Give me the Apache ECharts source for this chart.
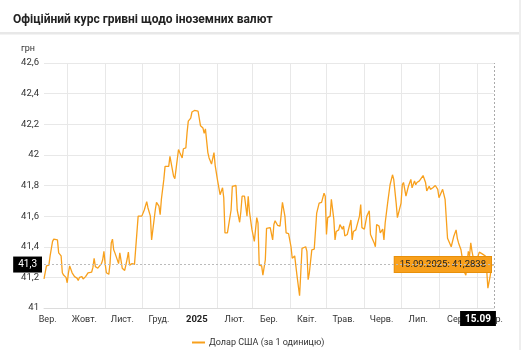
<!DOCTYPE html>
<html>
<head>
<meta charset="utf-8">
<script src="https://cdn.jsdelivr.net/npm/echarts@6/dist/echarts.min.js"></script>
<style>
html,body{margin:0;padding:0;background:#fff;}
#chart{width:522px;height:350px;}
</style>
</head>
<body>
<div id="chart"></div>
<script>
const titleText = 'Офіційний курс гривні щодо іноземних валют';
const unitName = 'грн';
const seriesName = 'Долар США (за 1 одиницю)';
const rangeStart = '2024-09-12';
const rangeEnd = '2025-09-15';
const monthNames = ['Січ.','Лют.','Бер.','Квіт.','Трав.','Черв.','Лип.','Сер.','Вер.','Жовт.','Лист.','Груд.'];
const yTicks = [41, 41.2, 41.4, 41.6, 41.8, 42, 42.2, 42.4, 42.6];

const dates = [
'2024-09-12','2024-09-14','2024-09-16','2024-09-17','2024-09-19','2024-09-20','2024-09-23','2024-09-24','2024-09-25','2024-09-26','2024-09-27','2024-09-28','2024-09-30',
'2024-10-01','2024-10-02','2024-10-03','2024-10-05','2024-10-06','2024-10-07','2024-10-09','2024-10-10','2024-10-11','2024-10-13','2024-10-14','2024-10-16','2024-10-18','2024-10-21','2024-10-22','2024-10-23','2024-10-24','2024-10-26','2024-10-27','2024-10-29','2024-10-30','2024-10-31',
'2024-11-01','2024-11-02','2024-11-04','2024-11-05','2024-11-06','2024-11-07','2024-11-08','2024-11-09','2024-11-10','2024-11-12','2024-11-13','2024-11-14','2024-11-15','2024-11-17','2024-11-18','2024-11-19','2024-11-20','2024-11-21','2024-11-23','2024-11-25','2024-11-26','2024-11-28',
'2024-12-01','2024-12-02','2024-12-03','2024-12-05','2024-12-06','2024-12-08','2024-12-09','2024-12-12','2024-12-13','2024-12-15','2024-12-16','2024-12-17','2024-12-19','2024-12-20','2024-12-21','2024-12-23','2024-12-24','2024-12-25','2024-12-27','2024-12-28','2024-12-29','2024-12-31',
'2025-01-01','2025-01-03','2025-01-04','2025-01-06','2025-01-07','2025-01-08','2025-01-10','2025-01-11','2025-01-13','2025-01-14','2025-01-16','2025-01-17','2025-01-18','2025-01-20','2025-01-21','2025-01-22','2025-01-24','2025-01-25','2025-01-26','2025-01-27','2025-01-29','2025-01-30',
'2025-02-01','2025-02-02','2025-02-03','2025-02-05','2025-02-06','2025-02-07','2025-02-09','2025-02-10','2025-02-12','2025-02-13','2025-02-16','2025-02-17','2025-02-19','2025-02-20','2025-02-21','2025-02-23','2025-02-25','2025-02-26','2025-02-27',
'2025-03-01','2025-03-02','2025-03-03','2025-03-05','2025-03-06','2025-03-07','2025-03-09','2025-03-10','2025-03-12','2025-03-13','2025-03-14','2025-03-16','2025-03-18','2025-03-19','2025-03-20','2025-03-22','2025-03-24','2025-03-26','2025-03-28','2025-03-29','2025-03-31',
'2025-04-02','2025-04-03','2025-04-05','2025-04-06','2025-04-07','2025-04-09','2025-04-10','2025-04-11','2025-04-14','2025-04-15','2025-04-16','2025-04-17','2025-04-19','2025-04-21','2025-04-22','2025-04-23','2025-04-25','2025-04-27','2025-04-29','2025-04-30',
'2025-05-01','2025-05-02','2025-05-04','2025-05-05','2025-05-07','2025-05-08','2025-05-09','2025-05-11','2025-05-12','2025-05-14','2025-05-15','2025-05-16','2025-05-18','2025-05-19','2025-05-21','2025-05-22','2025-05-23','2025-05-25','2025-05-26','2025-05-28','2025-05-29','2025-05-30',
'2025-06-01','2025-06-02','2025-06-03','2025-06-05','2025-06-06','2025-06-07','2025-06-09','2025-06-10','2025-06-11','2025-06-13','2025-06-14','2025-06-16','2025-06-17','2025-06-18','2025-06-20','2025-06-21','2025-06-22','2025-06-24','2025-06-25','2025-06-27','2025-06-28','2025-06-29',
'2025-07-01','2025-07-02','2025-07-03','2025-07-05','2025-07-06','2025-07-07','2025-07-09','2025-07-10','2025-07-12','2025-07-13','2025-07-14','2025-07-16','2025-07-17','2025-07-19','2025-07-20','2025-07-21','2025-07-22','2025-07-24','2025-07-25','2025-07-27','2025-07-28','2025-07-29','2025-07-31',
'2025-08-01','2025-08-02','2025-08-04','2025-08-05','2025-08-06','2025-08-08','2025-08-09','2025-08-11','2025-08-12','2025-08-13','2025-08-15','2025-08-16','2025-08-17','2025-08-19','2025-08-20','2025-08-22','2025-08-23','2025-08-25','2025-08-26','2025-08-27','2025-08-28','2025-08-30','2025-08-31',
'2025-09-02','2025-09-03','2025-09-04','2025-09-06','2025-09-07','2025-09-08','2025-09-09','2025-09-10','2025-09-12','2025-09-13','2025-09-14','2025-09-15'
];

const values = [
41.19,41.275,41.28,41.34,41.435,41.45,41.445,41.36,41.37,41.34,41.23,41.215,41.2,
41.165,41.23,41.275,41.23,41.23,41.205,41.195,41.18,41.2,41.205,41.19,41.205,41.23,41.235,41.265,41.325,41.27,41.26,41.26,41.29,41.315,41.37,
41.29,41.23,41.22,41.29,41.425,41.45,41.38,41.36,41.355,41.29,41.36,41.37,41.26,41.245,41.25,41.32,41.365,41.28,41.29,41.285,41.29,41.6,
41.6,41.595,41.64,41.695,41.655,41.6,41.445,41.64,41.69,41.665,41.61,41.71,41.84,41.925,41.93,41.925,41.99,41.98,41.86,41.845,41.845,42.035,
42.015,41.98,42.04,42.045,42.145,42.22,42.24,42.28,42.29,42.29,42.285,42.275,42.19,42.175,42.14,42.17,42.015,41.98,41.98,41.94,42.015,41.93,
41.83,41.825,41.74,41.785,41.72,41.49,41.49,41.48,41.64,41.795,41.8,41.64,41.56,41.63,41.73,41.73,41.6,41.73,41.63,
41.515,41.51,41.435,41.59,41.555,41.28,41.275,41.215,41.315,41.52,41.525,41.525,41.445,41.545,41.57,41.54,41.535,41.69,41.6,41.49,41.485,
41.4,41.325,41.34,41.335,41.205,41.08,41.23,41.39,41.4,41.37,41.185,41.23,41.38,41.385,41.39,41.62,41.685,41.69,41.75,41.73,
41.48,41.59,41.6,41.71,41.58,41.445,41.5,41.51,41.545,41.515,41.535,41.47,41.48,41.47,41.575,41.445,41.5,41.51,41.51,41.6,41.675,41.525,
41.515,41.51,41.6,41.635,41.48,41.47,41.425,41.4,41.545,41.535,41.49,41.515,41.445,41.555,41.685,41.685,41.805,41.87,41.84,41.685,41.59,41.59,
41.685,41.805,41.82,41.73,41.73,41.795,41.84,41.785,41.83,41.805,41.82,41.83,41.84,41.865,41.87,41.82,41.765,41.795,41.775,41.785,41.795,41.8,41.775,
41.72,41.72,41.775,41.785,41.71,41.455,41.455,41.4,41.39,41.465,41.51,41.455,41.425,41.38,41.37,41.23,41.215,41.37,41.34,41.425,41.37,41.29,41.27,
41.34,41.365,41.36,41.35,41.35,41.34,41.25,41.13,41.215,41.28,41.29,41.2838
];

// daily category list for the x axis
const categories = [];
(function () {
  const s = Date.parse(rangeStart + 'T00:00:00Z');
  const e = Date.parse(rangeEnd + 'T00:00:00Z');
  for (let t = s; t <= e; t += 86400000) categories.push(new Date(t).toISOString().slice(0, 10));
})();

const seriesData = dates.map((d, i) => [categories.indexOf(d), values[i]]);
const lastIdx = categories.indexOf(dates[dates.length - 1]);
const lastVal = values[values.length - 1];
const lastDate = dates[dates.length - 1];
const fmtNum = (v, dp) => (dp == null ? String(Math.round(v * 10) / 10) : v.toFixed(dp)).replace('.', ',');
const dd = lastDate.slice(8, 10), mm = lastDate.slice(5, 7), yy = lastDate.slice(0, 4);
const tipText = dd + '.' + mm + '.' + yy + ': ' + fmtNum(lastVal, 4);
const xPtrText = dd + '.' + mm;

const FONT = 'Roboto, "Noto Sans", sans-serif';
const ORANGE = '#f8a01c';

const chart = echarts.init(document.getElementById('chart'), null, {renderer: 'canvas'});
chart.setOption({
  animation: false,
  backgroundColor: '#fff',
  textStyle: {fontFamily: FONT},
  title: {
    text: titleText, left: 8, top: 9,
    textStyle: {fontFamily: FONT, fontSize: 12, fontWeight: 'bold', color: '#222'}
  },
  graphic: [
    {type: 'rect', shape: {x: 0, y: 32, width: 520, height: 2.5}, style: {fill: '#e8e8e8'}, silent: true},
    {type: 'rect', shape: {x: 519, y: 0, width: 2, height: 350}, style: {fill: '#eeeeee'}, silent: true}
  ],
  legend: {
    left: 187, top: 333, itemWidth: 13, itemHeight: 2, icon: 'rect', itemGap: 4,
    textStyle: {fontFamily: FONT, fontSize: 9, color: '#333', padding: [0, 0, 0, -1]},
    data: [seriesName]
  },
  grid: {left: 44, right: 28, top: 63, bottom: 42, containLabel: false},
  xAxis: {
    type: 'category', data: categories, boundaryGap: false,
    axisLine: {show: true, lineStyle: {color: '#dcdcdc'}},
    axisTick: {show: false},
    axisLabel: {
      interval: (i, v) => v.slice(8, 10) === '15',
      fontSize: 9, color: '#333', margin: 7, fontFamily: FONT,
      formatter: (v) => {
        const m = parseInt(v.slice(5, 7), 10) - 1;
        return m === 0 ? '{b|' + v.slice(0, 4) + '}' : monthNames[m];
      },
      rich: {b: {fontWeight: 'bold', fontSize: 9.5, color: '#222', fontFamily: FONT}}
    },
    splitLine: {show: true, interval: (i, v) => v.slice(8, 10) === '01', lineStyle: {color: '#e8e8e8'}},
    axisPointer: {
      show: true, status: 'show', value: lastIdx, triggerTooltip: false,
      type: 'line', lineStyle: {color: '#aaa', type: [2, 2], width: 1},
      label: {show: false}
    }
  },
  yAxis: {
    type: 'value', min: 41, max: 42.6, interval: 0.2,
    name: unitName, nameLocation: 'end', nameGap: 10,
    nameTextStyle: {fontFamily: FONT, fontSize: 9, color: '#333', align: 'right', padding: [0, 9, 0, 0]},
    axisLine: {show: false}, axisTick: {show: false},
    axisLabel: {fontSize: 9.5, color: '#333', margin: 5, fontFamily: FONT, formatter: (v) => fmtNum(v)},
    splitLine: {lineStyle: {color: '#e8e8e8'}},
    axisPointer: {
      show: true, status: 'show', value: lastVal, triggerTooltip: false,
      type: 'line', lineStyle: {color: '#bbb', type: [2, 2], width: 1},
      label: {
        show: true, margin: 2, formatter: (p) => fmtNum(p.value),
        backgroundColor: '#000', color: '#fff', fontSize: 10, fontFamily: FONT,
        padding: [3, 5], borderRadius: 0, shadowBlur: 0
      }
    }
  },
  series: [{
    name: seriesName, type: 'line', data: seriesData,
    showSymbol: false, symbol: 'none', clip: false,
    lineStyle: {color: ORANGE, width: 1.3},
    itemStyle: {color: ORANGE},
    z: 3,
    markPoint: {
      symbol: 'circle', symbolSize: 0, silent: true,
      data: [
        {coord: [lastIdx, lastVal], label: {
          show: true, position: 'left', distance: 3, formatter: tipText,
          backgroundColor: ORANGE, borderColor: '#e8900a', borderWidth: 1,
          color: '#222', fontSize: 9.5, fontFamily: FONT, padding: [3, 5, 2, 5]
        }},
        {coord: [lastIdx, 41], label: {
          show: true, position: 'bottom', distance: 3, offset: [-16, 0], formatter: xPtrText,
          backgroundColor: '#000', color: '#fff', fontSize: 10, fontWeight: 'bold', fontFamily: FONT,
          padding: [3, 5, 2, 5]
        }}
      ]
    }
  }]
});
</script>
</body>
</html>
